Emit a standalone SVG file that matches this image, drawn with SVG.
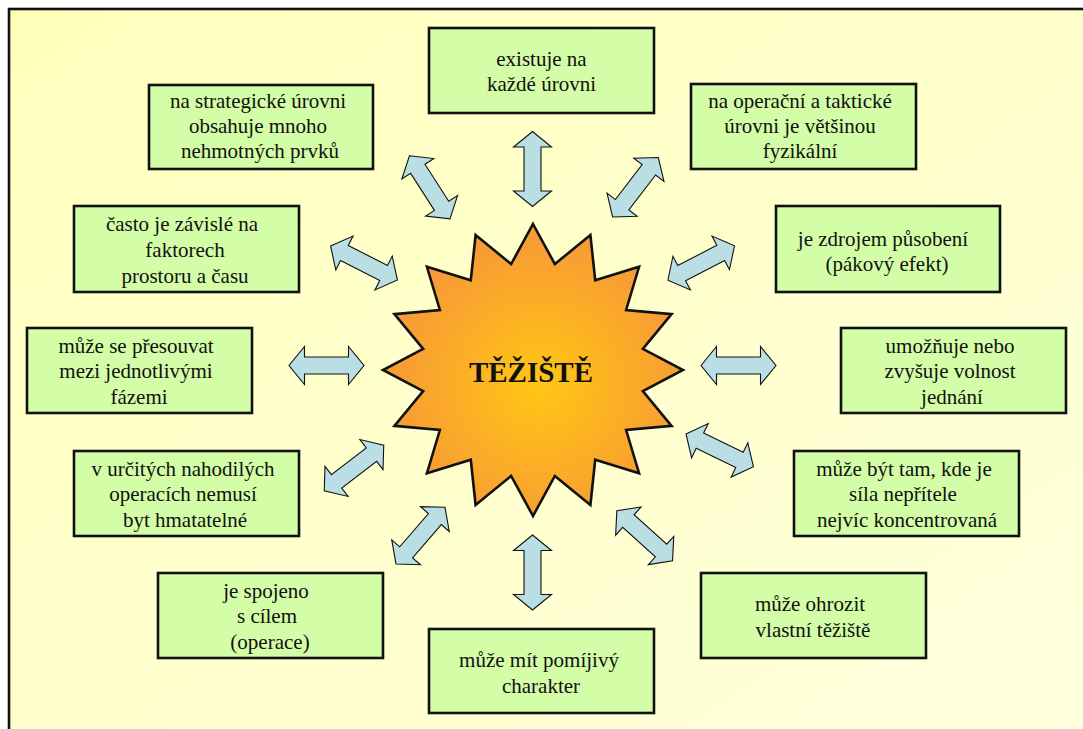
<svg xmlns="http://www.w3.org/2000/svg" xmlns:xlink="http://www.w3.org/1999/xlink" width="1083" height="729" viewBox="0 0 1083 729">
<style>
.box{fill:#D3FDA6;stroke:#111;stroke-width:2.6}
.t{font-family:"Liberation Serif","Times New Roman",serif;font-size:21px;fill:#111;text-anchor:middle}
.arr{fill:#B9DFE4;stroke:#111;stroke-width:1.1;stroke-linejoin:miter}
</style>
<defs>
<linearGradient id="bg" x1="0" y1="0" x2="1" y2="1">
<stop offset="0" stop-color="#FFFFBC"/>
<stop offset="1" stop-color="#FFFFDE"/>
</linearGradient>
<radialGradient id="sun" cx="540" cy="385" r="150" gradientUnits="userSpaceOnUse">
<stop offset="0" stop-color="#FFC714"/>
<stop offset="0.55" stop-color="#FCAE26"/>
<stop offset="1" stop-color="#F69B36"/>
</radialGradient>
<path id="dbl" d="M-37.5,0 L-22,-19 L-22,-8.5 L22,-8.5 L22,-19 L37.5,0 L22,19 L22,8.5 L-22,8.5 L-22,19 Z"/>
</defs>
<rect x="0" y="0" width="1083" height="729" fill="#FFFFFF"/>
<rect x="9" y="9" width="1090" height="740" fill="url(#bg)" stroke="#111" stroke-width="2.6"/>

<g id="connectors">
<use href="#dbl" class="arr" transform="translate(532.5,169) rotate(90)"/>
<use href="#dbl" class="arr" transform="translate(532.5,572.5) rotate(90)"/>
<use href="#dbl" class="arr" transform="translate(326.5,365.5)"/>
<use href="#dbl" class="arr" transform="translate(738.5,365.5)"/>
<use href="#dbl" class="arr" transform="translate(429.7,187.3) rotate(57.3)"/>
<use href="#dbl" class="arr" transform="translate(364,263) rotate(27)"/>
<use href="#dbl" class="arr" transform="translate(635.5,187.3) rotate(-52.5)"/>
<use href="#dbl" class="arr" transform="translate(701.2,263) rotate(-27.4)"/>
<use href="#dbl" class="arr" transform="translate(354,468) rotate(-37.5)"/>
<use href="#dbl" class="arr" transform="translate(420.5,535.7) rotate(-49.2)"/>
<use href="#dbl" class="arr" transform="translate(644.7,535.8) rotate(42)"/>
<use href="#dbl" class="arr" transform="translate(719.7,450.3) rotate(25.9)"/>
</g>

<g id="center">
<polygon points="533,224 554.85,264.07 590.40,235.11 595.22,280.20 639.07,266.76 626.12,310.00 671.58,314.13 642.85,348.93 683,370 642.85,391.07 671.58,425.87 626.12,430.00 639.07,473.24 595.22,459.80 590.40,504.89 554.85,475.93 533,516 511.15,475.93 475.60,504.89 470.78,459.80 426.93,473.24 439.88,430.00 394.42,425.87 423.15,391.07 383,370 423.15,348.93 394.42,314.13 439.88,310.00 426.93,266.76 470.78,280.20 475.60,235.11 511.15,264.07" fill="url(#sun)" stroke="#111" stroke-width="2.6" stroke-linejoin="miter"/>
<text x="531" y="382" font-family="Liberation Serif,'Times New Roman',serif" font-size="29" font-weight="bold" fill="#111" text-anchor="middle">TĚŽIŠTĚ</text>
</g>

<g id="n-top">
<rect class="box" x="429" y="28" width="225" height="85"/>
<text class="t" x="541.5" y="66">existuje na</text>
<text class="t" x="541.5" y="91">každé úrovni</text>
</g>
<g id="n-strategic">
<rect class="box" x="149" y="85" width="224" height="84"/>
<text class="t" x="258" y="108">na strategické úrovni</text>
<text class="t" x="258" y="133">obsahuje mnoho</text>
<text class="t" x="260" y="158">nehmotných prvků</text>
</g>
<g id="n-operational">
<rect class="box" x="691" y="84" width="225" height="85"/>
<text class="t" x="800" y="108">na operační a taktické</text>
<text class="t" x="800" y="133">úrovni je většinou</text>
<text class="t" x="800" y="158">fyzikální</text>
</g>
<g id="n-factors">
<rect class="box" x="74" y="206" width="225" height="86"/>
<text class="t" x="182" y="231">často je závislé na</text>
<text class="t" x="185" y="257">faktorech</text>
<text class="t" x="185" y="283">prostoru a času</text>
</g>
<g id="n-source">
<rect class="box" x="776" y="206" width="224" height="86"/>
<text class="t" x="883" y="246">je zdrojem působení</text>
<text class="t" x="887" y="271">(pákový efekt)</text>
</g>
<g id="n-phases">
<rect class="box" x="27" y="328" width="225" height="85"/>
<text class="t" x="136" y="353">může se přesouvat</text>
<text class="t" x="136" y="378">mezi jednotlivými</text>
<text class="t" x="139" y="404">fázemi</text>
</g>
<g id="n-freedom">
<rect class="box" x="841" y="328" width="225" height="85"/>
<text class="t" x="950" y="353">umožňuje nebo</text>
<text class="t" x="950" y="378">zvyšuje volnost</text>
<text class="t" x="952" y="404">jednání</text>
</g>
<g id="n-random">
<rect class="box" x="74" y="451" width="225" height="85"/>
<text class="t" x="183" y="476">v určitých nahodilých</text>
<text class="t" x="183" y="501">operacích nemusí</text>
<text class="t" x="185" y="527">byt hmatatelné</text>
</g>
<g id="n-enemy">
<rect class="box" x="794" y="451" width="225" height="85"/>
<text class="t" x="904" y="476">může být tam, kde je</text>
<text class="t" x="903" y="501">síla nepřítele</text>
<text class="t" x="907" y="527">nejvíc koncentrovaná</text>
</g>
<g id="n-goal">
<rect class="box" x="158" y="573" width="225" height="85"/>
<text class="t" x="266" y="598">je spojeno</text>
<text class="t" x="267" y="623">s cílem</text>
<text class="t" x="270" y="649">(operace)</text>
</g>
<g id="n-threat">
<rect class="box" x="701" y="573" width="225" height="85"/>
<text class="t" x="810" y="611">může ohrozit</text>
<text class="t" x="813" y="637">vlastní těžiště</text>
</g>
<g id="n-transient">
<rect class="box" x="429" y="629" width="225" height="84"/>
<text class="t" x="539" y="667">může mít pomíjivý</text>
<text class="t" x="541" y="693">charakter</text>
</g>
</svg>
